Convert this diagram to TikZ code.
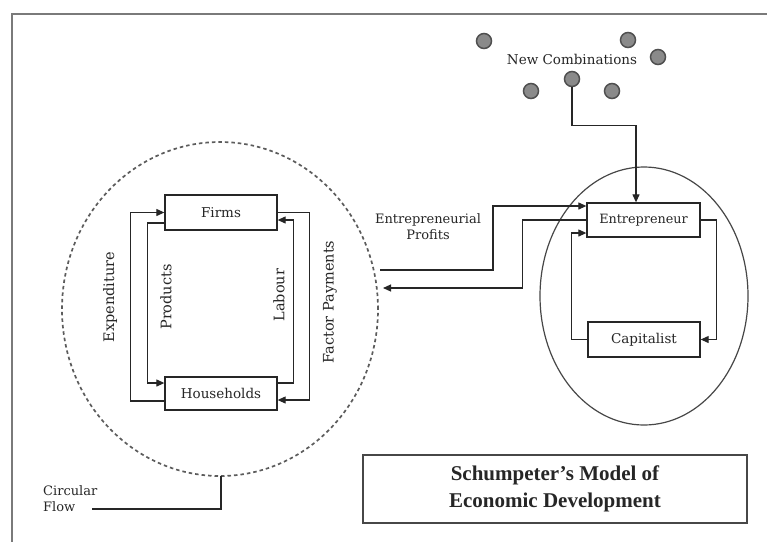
\documentclass[tikz,border=0pt]{standalone}
\usepackage{fontspec}
\setmainfont{DejaVu Serif}
\newfontfamily\titlefont{Liberation Serif}
\usetikzlibrary{shapes.geometric,arrows.meta}
\definecolor{ln}{HTML}{262626}
\definecolor{frm}{HTML}{7A7A7A}
\definecolor{dotf}{HTML}{8A8A8A}
\definecolor{dotd}{HTML}{4F4F4F}
\tikzset{
  box/.style={draw=ln, line width=1.3pt, rectangle, inner sep=0pt, font=\fontsize{13.5}{15}\selectfont, text=ln},
  conn/.style={draw=ln, line width=1.1pt},
  arr/.style={conn, -{Triangle[length=8pt,width=7pt]}},
  rlab/.style={rotate=90, font=\fontsize{14.5}{16}\selectfont, text=ln, inner sep=0pt},
  lab/.style={font=\fontsize{13}{16}\selectfont, text=ln, inner sep=0pt},
  ndot/.style={circle, draw=dotd, fill=dotf, line width=1.5pt, minimum size=15pt, inner sep=0pt}
}
\begin{document}
\begin{tikzpicture}[x=1pt,y=-1pt]
\useasboundingbox (0,0) rectangle (767,541);
\fill[white] (0,0) rectangle (767,541);
\begin{scope}
\clip (0,0) rectangle (767,541);
\draw[frm, line width=2.2pt] (12,14) rectangle (790,560);
\end{scope}
% circular flow ellipse
\node[ellipse, draw=ln!75, dash pattern=on 3.5pt off 3pt, line width=1.7pt, minimum width=316pt, minimum height=334pt, inner sep=0pt] (cflow) at (220,309) {};
% entrepreneur circle
\node[ellipse, draw=ln!85, line width=1.2pt, minimum width=208pt, minimum height=258pt, inner sep=0pt] (ecirc) at (644,296) {};
% boxes
\node[box, minimum width=112pt, minimum height=35pt] (firms) at (221,212.5) {Firms};
\node[box, minimum width=112pt, minimum height=33pt] (hh) at (221,393.5) {Households};
\node[box, minimum width=113pt, minimum height=34pt, font=\fontsize{12.8}{15}\selectfont] (ent) at (643.5,220) {Entrepreneur};
\node[box, minimum width=112pt, minimum height=35pt] (cap) at (644,339.5) {Capitalist};
% circular flow arrows
\draw[arr] ([yshift=-7.5pt]hh.west) -- ++(-34,0) |- (firms.west);
\draw[arr] ([yshift=-10.5pt]firms.west) -- ++(-17,0) |- ([yshift=10.5pt]hh.west);
\draw[arr] ([yshift=10.5pt]hh.east) -- ++(16,0) |- ([yshift=-7.5pt]firms.east);
\draw[arr] (firms.east) -- ++(32,0) |- ([yshift=-6.5pt]hh.east);
\node[rlab] (lexp) at (110,297) {Expenditure};
\node[rlab] (lprod) at (166,297) {Products};
\node[rlab] (llab) at (279,295) {Labour};
\node[rlab] (lfp) at (330,302) {Factor Payments};
% entrepreneur / capitalist
\draw[arr] (ent.east) -- ++(16,0) |- (cap.east);
\draw[arr] (cap.west) -- ++(-16,0) |- ([yshift=-13pt]ent.west);
% profits
\coordinate (pin) at (380,270);
\coordinate (pout) at (383,288);
\draw[arr] (pin) -- ++(113,0) |- ([yshift=14pt]ent.west);
\draw[arr] (ent.west) -- ++(-64,0) |- (pout);
\node[lab, align=center] (lprof) at (428,227) {Entrepreneurial\\Profits};
% new combinations
\node[lab, font=\fontsize{13.5}{16}\selectfont] (nc) at (572,59) {New Combinations};
\node[ndot] (d1) at (484,41) {};
\node[ndot] (d2) at (628,40) {};
\node[ndot] (d3) at (658,57) {};
\node[ndot] (d4) at (572,79) {};
\node[ndot] (d5) at (531,91) {};
\node[ndot] (d6) at (612,91) {};
\draw[arr] (d4.south) -- ++(0,38) -| ([xshift=-7.5pt]ent.north);
% circular flow label
\node[lab, align=left, anchor=west] (lcf) at (43,499) {Circular\\Flow};
\coordinate (cfs) at (92,509);
\coordinate (cfb) at (221,476);
\draw[conn] (cfs) -| (cfb);
% title
\node[draw=ln!85, line width=1.4pt, minimum width=384pt, minimum height=68pt, inner sep=0pt, align=center, font=\titlefont\bfseries\fontsize{21}{27}\selectfont, text=ln] (title) at (555,489) {Schumpeter’s Model of\\Economic Development};
\end{tikzpicture}
\end{document}
